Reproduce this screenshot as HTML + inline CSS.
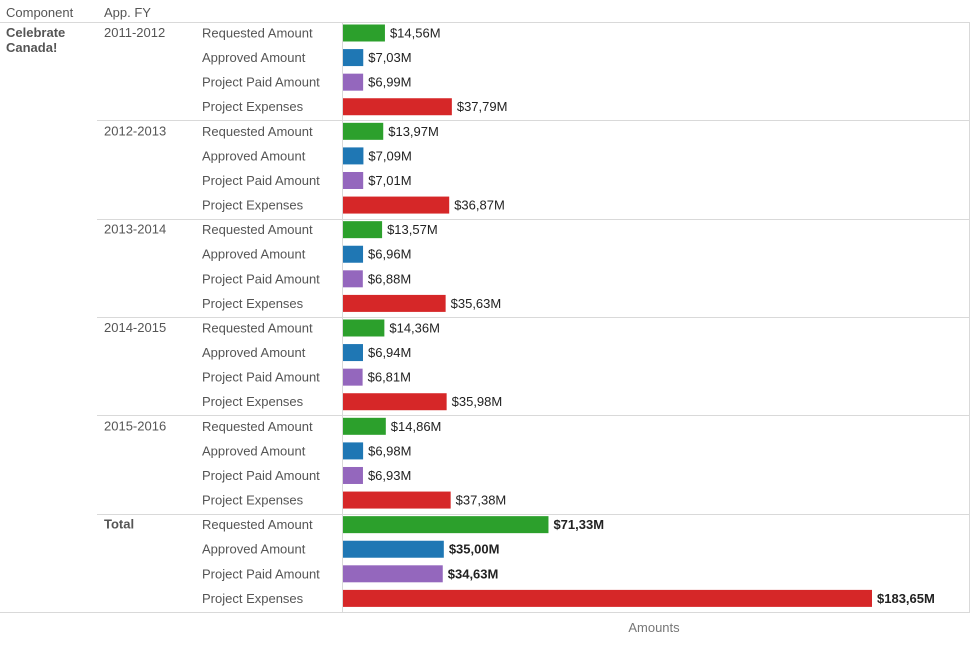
<!DOCTYPE html>
<html><head><meta charset="utf-8"><style>
body{margin:0;background:#fff;font-family:"Liberation Sans",Arial,sans-serif;}
svg text{font-family:"Liberation Sans",Arial,sans-serif;}
</style></head><body>
<svg id="chart" width="975" height="643" xmlns="http://www.w3.org/2000/svg"></svg>
<script>
const years = ["2011-2012","2012-2013","2013-2014","2014-2015","2015-2016","Total"];
const measures = ["Requested Amount","Approved Amount","Project Paid Amount","Project Expenses"];
const requested = [14.56,13.97,13.57,14.36,14.86,71.33];
const approved = [7.03,7.09,6.96,6.94,6.98,35.00];
const paid = [6.99,7.01,6.88,6.81,6.93,34.63];
const expenses = [37.79,36.87,35.63,35.98,37.38,183.65];
const labels = [
 ["$14,56M","$7,03M","$6,99M","$37,79M"],
 ["$13,97M","$7,09M","$7,01M","$36,87M"],
 ["$13,57M","$6,96M","$6,88M","$35,63M"],
 ["$14,36M","$6,94M","$6,81M","$35,98M"],
 ["$14,86M","$6,98M","$6,93M","$37,38M"],
 ["$71,33M","$35,00M","$34,63M","$183,65M"]
];
const series=[requested,approved,paid,expenses];
const colors=["#2ca02c","#1f77b4","#9467bd","#d62728"];
const svg=document.getElementById('chart');
const NS="http://www.w3.org/2000/svg";
function mk(tag,attrs,parent){const e=document.createElementNS(NS,tag);for(const k in attrs)e.setAttribute(k,attrs[k]);(parent||svg).appendChild(e);return e;}
const x0=343, pxPerM=529/183.65;
const x=v=>v*pxPerM;
const top0=22, groupH=98.33, rowH=24.58;
const FS=13;
let t;
t=mk('text',{x:6,y:17,'font-size':FS,fill:'#555'});t.textContent='Component';

t=mk('text',{x:104,y:17,'font-size':FS,fill:'#555'});t.textContent='App. FY';

t=mk('text',{x:6,y:37,'font-size':FS,'font-weight':'bold',fill:'#555'});t.textContent='Celebrate';

t=mk('text',{x:6,y:52,'font-size':FS,'font-weight':'bold',fill:'#555'});t.textContent='Canada!';

let l=mk('line',{x1:0,x2:970,y1:top0+0.5,y2:top0+0.5,stroke:'#d9d9d9'});

l=mk('line',{x1:342.5,x2:342.5,y1:top0,y2:top0+groupH*6,stroke:'#d9d9d9'});

l=mk('line',{x1:969.5,x2:969.5,y1:top0,y2:top0+groupH*6,stroke:'#d9d9d9'});

l=mk('line',{x1:0,x2:970,y1:top0+groupH*6+0.5,y2:top0+groupH*6+0.5,stroke:'#d9d9d9'});

years.forEach((yr,g)=>{
  const gy=top0+g*groupH;
  if(g>0){const s=mk('line',{x1:97,x2:970,y1:Math.round(gy)+0.5,y2:Math.round(gy)+0.5,stroke:'#d9d9d9'});
    }
  const yt=mk('text',{x:104,y:gy+15,'font-size':FS,fill:'#555','font-weight':yr==='Total'?'bold':'normal'});
  yt.textContent=yr;
  
  measures.forEach((m,i)=>{
    const cy=gy+11+i*rowH;
    const mt=mk('text',{x:202,y:cy+4.5,'font-size':FS,fill:'#555'});mt.textContent=m;
    
    const w=x(series[i][g]);
    const r=mk('rect',{x:x0,y:cy-8.5,width:w,height:17,fill:colors[i]});
    
    const vt=mk('text',{x:x0+w+5,y:cy+4.5,'font-size':FS,fill:'#222','font-weight':yr==='Total'?'bold':'normal'});
    vt.textContent=labels[g][i];
    
  });
});
t=mk('text',{x:654,y:632,'font-size':FS,fill:'#777','text-anchor':'middle'});t.textContent='Amounts';

</script>
</body></html>
